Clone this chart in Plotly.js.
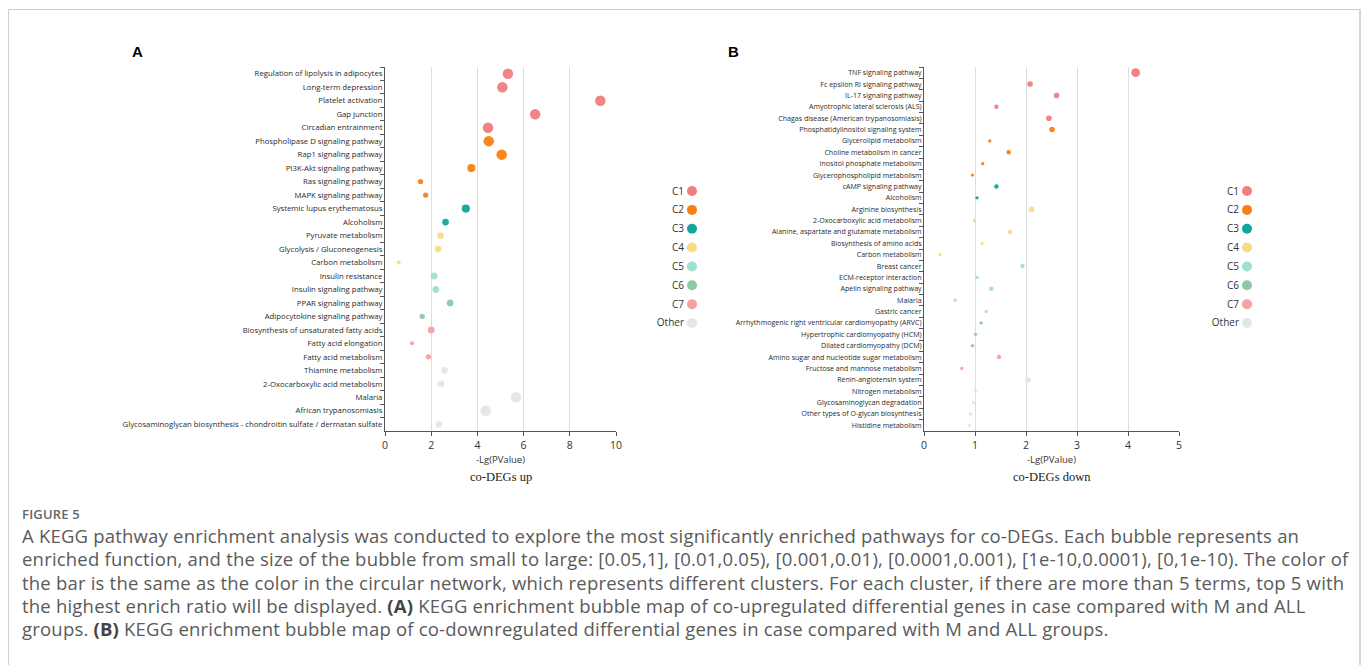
<!DOCTYPE html>
<html>
<head>
<meta charset="utf-8">
<script src="https://cdn.plot.ly/plotly-3.0.1.min.js"></script>
<style>
  html, body { margin:0; padding:0; background:#fff; }
  body { width:1372px; height:665px; position:relative; overflow:hidden; }
  #frame { position:absolute; left:8px; top:9px; width:1353px; height:660px; border:1px solid #cfcfcf; border-right:2px solid #d6d6d6; box-sizing:border-box; }
  #chart { position:absolute; left:0; top:0; width:1372px; height:500px; }
  #figlabel { position:absolute; left:22px; top:505px; font-family:"Open Sans", sans-serif; font-weight:600; font-size:13px; color:#666; letter-spacing:0.2px; }
  #caption { position:absolute; left:22px; top:524px; font-family:"Open Sans", sans-serif; font-size:18.5px; letter-spacing:0.2px; line-height:23.3px; color:#5a5a5a; white-space:nowrap; }
  #caption b { color:#444; }
</style>
</head>
<body>
<div id="frame"></div>
<div id="chart"></div>
<div id="figlabel">FIGURE 5</div>
<div id="caption">A KEGG pathway enrichment analysis was conducted to explore the most significantly enriched pathways for co-DEGs. Each bubble represents an<br>enriched function, and the size of the bubble from small to large: [0.05,1], [0.01,0.05), [0.001,0.01), [0.0001,0.001), [1e-10,0.0001), [0,1e-10). The color of<br>the bar is the same as the color in the circular network, which represents different clusters. For each cluster, if there are more than 5 terms, top 5 with<br>the highest enrich ratio will be displayed. <b>(A)</b> KEGG enrichment bubble map of co-upregulated differential genes in case compared with M and ALL<br>groups. <b>(B)</b> KEGG enrichment bubble map of co-downregulated differential genes in case compared with M and ALL groups.</div>
<script>
// ---------------- DATA ----------------
const clusterNames = ["C1","C2","C3","C4","C5","C6","C7","Other"];

const pathwaysA = [
  "Regulation of lipolysis in adipocytes","Long-term depression","Platelet activation","Gap junction",
  "Circadian entrainment","Phospholipase D signaling pathway","Rap1 signaling pathway","PI3K-Akt signaling pathway",
  "Ras signaling pathway","MAPK signaling pathway","Systemic lupus erythematosus","Alcoholism",
  "Pyruvate metabolism","Glycolysis / Gluconeogenesis","Carbon metabolism","Insulin resistance",
  "Insulin signaling pathway","PPAR signaling pathway","Adipocytokine signaling pathway",
  "Biosynthesis of unsaturated fatty acids","Fatty acid elongation","Fatty acid metabolism",
  "Thiamine metabolism","2-Oxocarboxylic acid metabolism","Malaria","African trypanosomiasis",
  "Glycosaminoglycan biosynthesis - chondroitin sulfate / dermatan sulfate"
];
const lgpA = [5.32,5.08,9.32,6.50,4.46,4.49,5.05,3.74,1.54,1.76,3.50,2.62,2.40,2.30,0.59,2.13,2.20,2.82,1.61,2.00,1.17,1.88,2.58,2.43,5.67,4.36,2.33];
const clusterA = ["C1","C1","C1","C1","C1","C2","C2","C2","C2","C2","C3","C3","C4","C4","C4","C5","C5","C6","C6","C7","C7","C7","Other","Other","Other","Other","Other"];

const pathwaysB = [
  "TNF signaling pathway","Fc epsilon RI signaling pathway","IL-17 signaling pathway","Amyotrophic lateral sclerosis (ALS)",
  "Chagas disease (American trypanosomiasis)","Phosphatidylinositol signaling system","Glycerolipid metabolism",
  "Choline metabolism in cancer","Inositol phosphate metabolism","Glycerophospholipid metabolism",
  "cAMP signaling pathway","Alcoholism","Arginine biosynthesis","2-Oxocarboxylic acid metabolism",
  "Alanine, aspartate and glutamate metabolism","Biosynthesis of amino acids","Carbon metabolism",
  "Breast cancer","ECM-receptor interaction","Apelin signaling pathway","Malaria","Gastric cancer",
  "Arrhythmogenic right ventricular cardiomyopathy (ARVC)","Hypertrophic cardiomyopathy (HCM)",
  "Dilated cardiomyopathy (DCM)","Amino sugar and nucleotide sugar metabolism","Fructose and mannose metabolism",
  "Renin-angiotensin system","Nitrogen metabolism","Glycosaminoglycan degradation",
  "Other types of O-glycan biosynthesis","Histidine metabolism"
];
const lgpB = [4.15,2.08,2.60,1.42,2.45,2.51,1.29,1.66,1.15,0.95,1.42,1.04,2.11,0.99,1.69,1.14,0.31,1.93,1.04,1.32,0.61,1.22,1.12,1.01,0.95,1.47,0.74,2.04,1.01,0.97,0.91,0.89];
const clusterB = ["C1","C1","C1","C1","C1","C2","C2","C2","C2","C2","C3","C3","C4","C4","C4","C4","C4","C5","C5","C5","C5","C5","C6","C6","C6","C7","C7","Other","Other","Other","Other","Other"];

// ---------------- STYLE ----------------
const colors = {C1:"#f07d80",C2:"#fa7f12",C3:"#11a69b",C4:"#f7dc87",C5:"#9ddfd1",C6:"#8dc9a6",C7:"#f5a0a1",Other:"#e3e6e2"};
// p-value bins from caption -> bubble diameter level
const lgThresholds = [-Math.log10(0.05), 2, 3, 4, 10];
const baseSizes = [4.0, 5.3, 6.7, 8.2, 10.5, 12.5];
function sizeFor(v, scale){ let k=0; while(k<lgThresholds.length && v>=lgThresholds[k]) k++; return baseSizes[k]*scale; }

const W=1372, H=500;
const px = x => x/W, py = y => 1 - y/H;

const labelFont = {family:"Open Sans, sans-serif", color:"#2a2a2a"};

const traces = [
  {type:"scatter", mode:"markers", x:lgpA, y:pathwaysA, xaxis:"x", yaxis:"y",
   marker:{color:clusterA.map(c=>colors[c]), size:lgpA.map(v=>sizeFor(v,1)), line:{width:0}, opacity:0.95},
   hoverinfo:"x+y", showlegend:false},
  {type:"scatter", mode:"markers", x:lgpB, y:pathwaysB, xaxis:"x2", yaxis:"y2",
   marker:{color:clusterB.map(c=>colors[c]), size:lgpB.map(v=>sizeFor(v,0.84)), line:{width:0}, opacity:0.95},
   hoverinfo:"x+y", showlegend:false},
  {type:"scatter", mode:"markers", x:clusterNames.map(()=>1), y:clusterNames, xaxis:"x3", yaxis:"y3",
   marker:{color:clusterNames.map(c=>colors[c]), size:10, line:{width:0}}, hoverinfo:"y", showlegend:false},
  {type:"scatter", mode:"markers", x:clusterNames.map(()=>1), y:clusterNames, xaxis:"x4", yaxis:"y4",
   marker:{color:clusterNames.map(c=>colors[c]), size:10, line:{width:0}}, hoverinfo:"y", showlegend:false}
];

const xCommon = {showgrid:true, gridcolor:"#d9dee6", gridwidth:1, zeroline:false, showline:true, linecolor:"#555", linewidth:1,
  ticks:"outside", ticklen:4, tickcolor:"#555", tickfont:{family:"Open Sans, sans-serif", size:10.5, color:"#333"}, fixedrange:true};
const yCommon = {type:"category", showgrid:false, zeroline:false, showline:true, linecolor:"#555", linewidth:1,
  ticks:"outside", ticklen:4, tickcolor:"#555", tickson:"boundaries", fixedrange:true};
const yTop = py(67), yBot = py(431);

function ann(text, x, y, font){ return {text:text, x:px(x), y:py(y), xref:"paper", yref:"paper", xanchor:"center", yanchor:"middle", showarrow:false, font:font}; }

const layout = {
  width:W, height:H, margin:{l:0,r:0,t:0,b:0},
  paper_bgcolor:"rgba(0,0,0,0)", plot_bgcolor:"rgba(0,0,0,0)",
  xaxis: Object.assign({}, xCommon, {domain:[px(385),px(616)], range:[0,10], dtick:2, tick0:0, anchor:"y"}),
  yaxis: Object.assign({}, yCommon, {domain:[yBot,yTop], anchor:"x", categoryorder:"array", categoryarray:pathwaysA,
    range:[pathwaysA.length-0.5,-0.5], tickfont:Object.assign({size:7.75}, labelFont)}),
  xaxis2: Object.assign({}, xCommon, {domain:[px(924),px(1179)], range:[0,5], dtick:1, tick0:0, anchor:"y2"}),
  yaxis2: Object.assign({}, yCommon, {domain:[yBot,yTop], anchor:"x2", categoryorder:"array", categoryarray:pathwaysB,
    range:[pathwaysB.length-0.5,-0.5], tickfont:Object.assign({size:7.05}, labelFont)}),
  xaxis3: {domain:[px(685),px(699)], range:[0,2], visible:false, fixedrange:true, anchor:"y3"},
  yaxis3: {type:"category", domain:[py(332.4),py(181.6)], range:[7.5,-0.5], anchor:"x3", showline:false, showgrid:false, zeroline:false,
    ticks:"", ticklen:0, tickfont:{family:"Open Sans, sans-serif", size:10, color:"#333"}, fixedrange:true},
  xaxis4: {domain:[px(1240),px(1254)], range:[0,2], visible:false, fixedrange:true, anchor:"y4"},
  yaxis4: {type:"category", domain:[py(332.4),py(181.6)], range:[7.5,-0.5], anchor:"x4", showline:false, showgrid:false, zeroline:false,
    ticks:"", ticklen:0, tickfont:{family:"Open Sans, sans-serif", size:10, color:"#333"}, fixedrange:true},
  annotations: [
    ann("<b>A</b>", 137, 52, {family:"Liberation Sans, Arial, sans-serif", size:15, color:"#000"}),
    ann("<b>B</b>", 733, 52, {family:"Liberation Sans, Arial, sans-serif", size:15, color:"#000"}),
    ann("-Lg(PValue)", 500.5, 459, {family:"Open Sans, sans-serif", size:9.5, color:"#333"}),
    ann("co-DEGs up", 500.5, 477, {family:"Liberation Serif, Times New Roman, serif", size:12.5, color:"#222"}),
    ann("-Lg(PValue)", 1051.5, 459, {family:"Open Sans, sans-serif", size:9.5, color:"#333"}),
    ann("co-DEGs down", 1051.5, 477, {family:"Liberation Serif, Times New Roman, serif", size:12.5, color:"#222"})
  ]
};

Plotly.newPlot("chart", traces, layout, {displayModeBar:false, staticPlot:true});
</script>
</body>
</html>
